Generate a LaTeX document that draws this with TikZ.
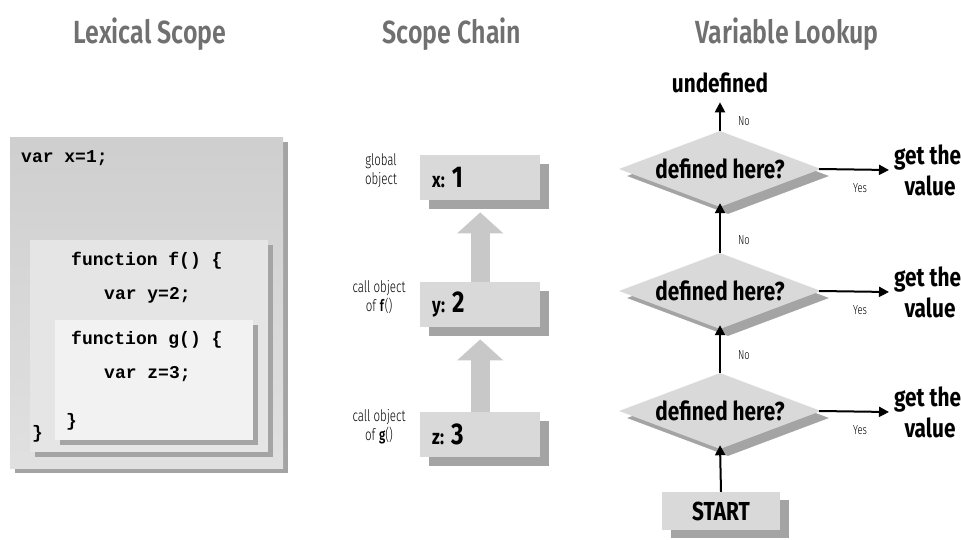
\documentclass[tikz,border=0pt]{standalone}
\usepackage{fontspec}
\setmainfont{Fira Sans}
\newfontfamily\condbold[FakeStretch=0.8]{Fira Sans Bold}
\newfontfamily\condhead[FakeStretch=0.78]{Fira Sans SemiBold}
\newfontfamily\condlight[FakeStretch=0.72]{Fira Sans Light}
\newfontfamily\codefont{Liberation Mono}
\usetikzlibrary{arrows.meta,shapes.geometric,shadows}

\definecolor{titlegray}{HTML}{707070}
\definecolor{shade}{HTML}{A4A4A4}
\definecolor{boxfill}{HTML}{D9D9D9}
\definecolor{chainarrow}{HTML}{C8C8C8}

\tikzset{
  heading/.style={font=\condhead\fontsize{32}{34}\selectfont, text=titlegray},
  codeline/.style={font=\codefont\bfseries\fontsize{18}{20}\selectfont, anchor=west, inner sep=0pt},
  scopebox/.style={draw=none, anchor=north west, inner sep=0pt,
    general shadow={fill=shade, shadow xshift=5pt, shadow yshift=-5pt}},
  chainbox/.style={draw=none, fill=boxfill, minimum width=120pt, minimum height=45pt,
    anchor=north west, inner sep=0pt,
    general shadow={fill=shade, shadow xshift=9pt, shadow yshift=-9pt}},
  chainlabel/.style={font=\condlight\fontsize{16}{19}\selectfont, align=center, inner sep=0pt},
  chainarr/.style={line width=19pt, draw=chainarrow, -{Triangle[length=21pt,width=45pt]}},
  test/.style={diamond, aspect=2.7, fill=boxfill, minimum width=202pt, minimum height=76pt,
    inner sep=0pt, font=\condbold\fontsize{26}{28}\selectfont,
    general shadow={fill=shade, shadow xshift=8pt, shadow yshift=-7pt}},
  outcome/.style={font=\condbold\fontsize{26}{27}\selectfont, inner sep=0pt, align=center},
  flow/.style={line width=2pt, -{Triangle[length=10pt,width=10pt]}},
  tiny/.style={font=\condlight\fontsize{13}{14}\selectfont, inner sep=0pt}
}

\begin{document}
\begin{tikzpicture}[x=1pt,y=-1pt]
\useasboundingbox (0,0) rectangle (961,540);

% column headings
\node[heading] (t1) at (150,34) {Lexical Scope};
\node[heading] (t2) at (452,34) {Scope Chain};
\node[heading] (t3) at (787,34) {Variable Lookup};

% ---- lexical scope: nested boxes ----
\node[scopebox, top color=black!19, bottom color=black!12,
      minimum width=273pt, minimum height=331pt] (outer) at (10,137) {};
\node[scopebox, fill=black!10, minimum width=238pt, minimum height=212pt] (fbox) at (30,240) {};
\node[scopebox, fill=black!5, minimum width=198pt, minimum height=120pt] (gbox) at (55,320) {};

\node[codeline] (c1) at (21,158) {var x=1;};
\node[codeline] (c2) at (71,261) {function f() \{};
\node[codeline] (c3) at (104,295) {var y=2;};
\node[codeline] (c4) at (71,340) {function g() \{};
\node[codeline] (c5) at (104,374) {var z=3;};
\node[codeline] (c6) at (66,422) {\}};
\node[codeline] (c7) at (32,434) {\}};

% ---- scope chain ----
\node[chainbox] (bx) at (420,155) {};
\node[chainbox] (by) at (420,282) {};
\node[chainbox] (bz) at (420,412) {};

\node[anchor=west, inner sep=0pt] (vx) at ([xshift=12pt]bx.west)
  {\condbold\fontsize{21}{22}\selectfont x:\,\,\fontsize{30}{30}\selectfont 1};
\node[anchor=west, inner sep=0pt] (vy) at ([xshift=12pt]by.west)
  {\condbold\fontsize{21}{22}\selectfont y:\,\,\fontsize{30}{30}\selectfont 2};
\node[anchor=west, inner sep=0pt] (vz) at ([xshift=12pt]bz.west)
  {\condbold\fontsize{21}{22}\selectfont z:\,\,\fontsize{30}{30}\selectfont 3};

\node[chainlabel] (lx) at (381,171) {global\\object};
\node[chainlabel] (ly) at (379,297) {call object\\of \textbf{f}()};
\node[chainlabel] (lz) at (379,427) {call object\\of \textbf{g}()};

\draw[chainarr, shorten >=12pt] (by.north) -- (bx.south);
\draw[chainarr, shorten >=12pt] (bz.north) -- (by.south);

% ---- variable lookup ----
\node[test] (d1) at (720,169) {defined here?};
\node[test] (d2) at (720,291) {defined here?};
\node[test] (d3) at (720,411) {defined here?};

\node[outcome] (undef) at (720,83) {undefined};
\node[draw=none, fill=boxfill, minimum width=118pt, minimum height=38pt, inner sep=0pt,
      font=\condbold\fontsize{26}{28}\selectfont,
      general shadow={fill=shade, shadow xshift=9pt, shadow yshift=-8pt}] (start) at (721,511) {START};

\node[outcome, anchor=west] (g1a) at (894,158) {get the};
\node[outcome] (g1b) at (930,186) {value};
\node[outcome, anchor=west] (g2a) at (894,280) {get the};
\node[outcome] (g2b) at (930,308) {value};
\node[outcome, anchor=west] (g3a) at (894,400) {get the};
\node[outcome] (g3b) at (930,428) {value};

\coordinate (y1) at (889,170);
\coordinate (y2) at (889,292);
\coordinate (y3) at (889,412);

\draw[flow] (d1.north) -- ([yshift=-9pt]undef.south);
\draw[flow] (d2.north) -- ([yshift=4pt]d1.south);
\draw[flow] (d3.north) -- ([yshift=4pt]d2.south);
\draw[flow] (start.north) -- ([yshift=4pt]d3.south);
\draw[flow] ([xshift=-2pt]d1.east) -- (y1);
\draw[flow] ([xshift=-2pt]d2.east) -- (y2);
\draw[flow] ([xshift=-2pt]d3.east) -- (y3);

\node[tiny] (n1) at (744,121) {No};
\node[tiny] (n2) at (744,240) {No};
\node[tiny] (n3) at (744,355) {No};
\node[tiny] (s1) at (860,188) {Yes};
\node[tiny] (s2) at (860,310) {Yes};
\node[tiny] (s3) at (860,430) {Yes};
\end{tikzpicture}
\end{document}
